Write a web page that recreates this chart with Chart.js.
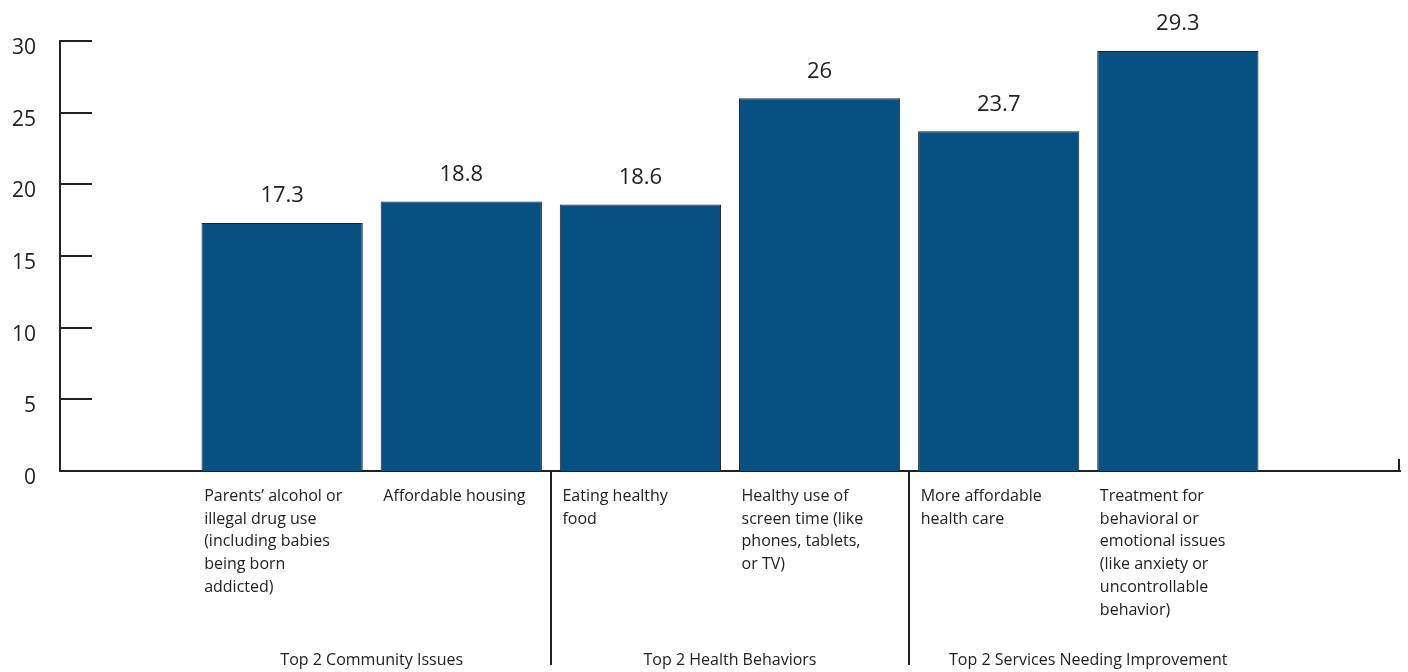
<!DOCTYPE html>
<html>
<head>
<meta charset="utf-8">
<script src="https://cdn.jsdelivr.net/npm/chart.js@4"></script>
<style>
  body { margin: 0; background: #fff; }
  #wrap { width: 1408px; height: 672px; }
</style>
</head>
<body>
<div id="wrap"><canvas id="myChart"></canvas></div>
<script>
'use strict';
let categories = [
    ['Parents\u2019 alcohol or', 'illegal drug use', '(including babies', 'being born', 'addicted)'],
    ['Affordable housing'],
    ['Eating healthy', 'food'],
    ['Healthy use of', 'screen time (like', 'phones, tablets,', 'or TV)'],
    ['More affordable', 'health care'],
    ['Treatment for', 'behavioral or', 'emotional issues', '(like anxiety or', 'uncontrollable', 'behavior)']
];
let values = [17.3, 18.8, 18.6, 26, 23.7, 29.3];
let groups = ['Top 2 Community Issues', 'Top 2 Health Behaviors', 'Top 2 Services Needing Improvement'];
let yTicks = [0, 5, 10, 15, 20, 25, 30];

let ink = '#222';
let font = "'Open Sans', sans-serif";

// bar positions on the x axis: 1..6, two bars per group
let points = values.map(function (v, i) { return { x: i + 1, y: v }; });

let extras = {
    id: 'extras',
    afterDraw: function (chart) {
        let ctx = chart.ctx;
        let xs = chart.scales.x;
        let ys = chart.scales.y;
        let area = chart.chartArea;
        ctx.save();
        ctx.strokeStyle = ink;
        ctx.lineWidth = 2;
        // y tick marks on the inside of the axis
        for (let i = 0; i < yTicks.length; i++) {
            let py = Math.round(ys.getPixelForValue(yTicks[i]));
            ctx.beginPath();
            ctx.moveTo(area.left, py);
            ctx.lineTo(area.left + 32, py);
            ctx.stroke();
        }
        // little end mark
        ctx.beginPath();
        ctx.moveTo(area.right - 1, area.bottom);
        ctx.lineTo(area.right - 1, area.bottom - 12);
        ctx.stroke();
        // group dividers
        for (let g = 1; g < groups.length; g++) {
            let px = Math.round(xs.getPixelForValue(g * 2 + 0.5));
            ctx.beginPath();
            ctx.moveTo(px, area.bottom);
            ctx.lineTo(px, area.bottom + 194);
            ctx.stroke();
        }
        // group labels
        ctx.fillStyle = ink;
        ctx.font = '16px ' + font;
        ctx.textAlign = 'center';
        ctx.textBaseline = 'middle';
        for (let g = 0; g < groups.length; g++) {
            ctx.fillText(groups[g], xs.getPixelForValue(g * 2 + 1.5), area.bottom + 189);
        }
        // value labels
        ctx.font = '22px ' + font;
        let meta = chart.getDatasetMeta(0);
        for (let i = 0; i < meta.data.length; i++) {
            let bar = meta.data[i];
            ctx.fillText(String(values[i]), bar.x, bar.y - 27);
        }
        ctx.restore();
    }
};

let ctx = document.getElementById('myChart').getContext('2d');
let myChart = new Chart(ctx, {
    type: 'bar',
    data: {
        datasets: [{
            data: points,
            backgroundColor: '#065082',
            borderColor: ink,
            borderWidth: 1,
            barPercentage: 0.9,
            categoryPercentage: 1
        }]
    },
    options: {
        responsive: true,
        maintainAspectRatio: false,
        animation: false,
        layout: { padding: { top: 41, right: 8, left: 0, bottom: 0 } },
        plugins: {
            legend: { display: false },
            tooltip: { enabled: false }
        },
        scales: {
            x: {
                type: 'linear',
                offset: false,
                min: -0.24,
                max: 7.24,
                grid: { display: false, drawTicks: false },
                border: { display: true, color: ink, width: 2 },
                afterBuildTicks: function (scale) {
                    scale.ticks = categories.map(function (c, i) { return { value: i + 1 }; });
                },
                afterFit: function (scale) { scale.height = 201; },
                ticks: {
                    autoSkip: false,
                    maxRotation: 0,
                    align: 'start',
                    labelOffset: -78,
                    padding: 14,
                    color: ink,
                    font: { family: font, size: 16, lineHeight: 1.42 },
                    callback: function (value) { return categories[value - 1]; }
                }
            },
            y: {
                min: 0,
                max: 30,
                grid: { display: false, drawTicks: false },
                border: { display: true, color: ink, width: 2 },
                afterBuildTicks: function (scale) {
                    scale.ticks = yTicks.map(function (t) { return { value: t }; });
                },
                afterFit: function (scale) { scale.width = 60; },
                ticks: {
                    padding: 24,
                    labelOffset: 7,
                    color: ink,
                    font: { family: font, size: 21 }
                }
            }
        }
    },
    plugins: [extras]
});
</script>
</body>
</html>
